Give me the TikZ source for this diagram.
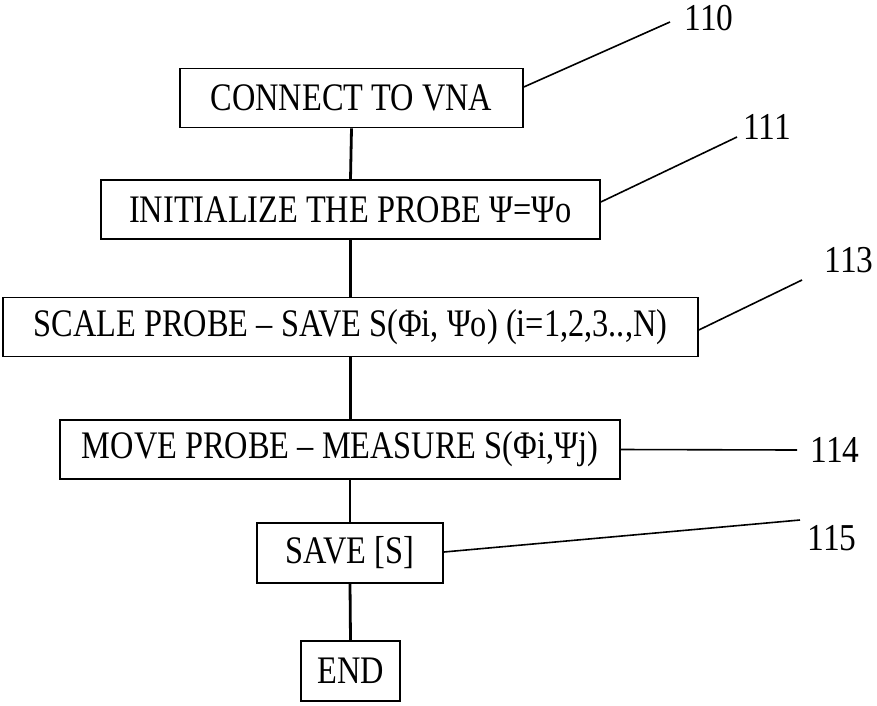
\documentclass[tikz,border=0pt]{standalone}
\usepackage{fontspec}
\setmainfont{Liberation Serif}
\newfontfamily\condfont[FakeStretch=0.83]{Liberation Serif}
\newfontfamily\numfont[FakeStretch=0.88]{Liberation Serif}
\begin{document}
\begin{tikzpicture}[x=1pt,y=-1pt,
  stepbox/.style={draw=black, line width=1.6pt, minimum height=59pt, inner sep=0pt,
    font=\condfont\fontsize{39}{44}\selectfont},
  flow/.style={line width=2.8pt},
  leader/.style={line width=1.6pt},
  refnum/.style={font=\numfont\fontsize{38}{44}\selectfont, inner sep=0pt}]
\useasboundingbox (0,0) rectangle (877,705);
% boxes
\node[stepbox, minimum width=343pt] (b1) at (351.5,98) {CONNECT TO VNA};
\node[stepbox, minimum width=499pt] (b2) at (350.5,209.5) {INITIALIZE THE PROBE Ψ=Ψo};
\node[stepbox, minimum width=695pt] (b3) at (350.5,327) {SCALE PROBE – SAVE S(Φi, Ψo) (i=1,2,3..,N)};
\node[stepbox, minimum width=560pt] (b4) at (340,449.5) {MOVE PROBE – MEASURE S(Φi,Ψj)};
\node[stepbox, minimum width=186pt, minimum height=60pt] (b5) at (350,553) {SAVE [S]};
\node[stepbox, minimum width=99pt, minimum height=60pt] (b6) at (350.5,671) {END};
% flow connectors
\draw[flow] (b1.south) -- (b2.north);
\draw[flow] (b2.south) -- (b3.north);
\draw[flow] (b3.south) -- (b3.south |- b4.north);
\draw[flow] (b5.north |- b4.south) -- (b5.north);
\draw[flow] (b5.south) -- (b6.north);
% reference numerals
\node[refnum] (r110) at (709,18) {110};
\node[refnum] (r111) at (767,127) {111};
\node[refnum] (r113) at (849,260) {113};
\node[refnum] (r114) at (835,450) {114};
\node[refnum] (r115) at (832,538) {115};
\coordinate (e110) at (670,22);
\coordinate (e111) at (737,137);
\coordinate (e113) at (802,280);
\coordinate (e114) at (797,450);
\coordinate (e115) at (800,520);
% leader lines
\draw[leader] ([yshift=11pt]b1.east) -- (e110);
\draw[leader] ([yshift=7.5pt]b2.east) -- (e111);
\draw[leader] ([yshift=-3pt]b3.east) -- (e113);
\draw[leader] (b4.east) -- (e114);
\draw[leader] ([yshift=1pt]b5.east) -- (e115);
\end{tikzpicture}
\end{document}
